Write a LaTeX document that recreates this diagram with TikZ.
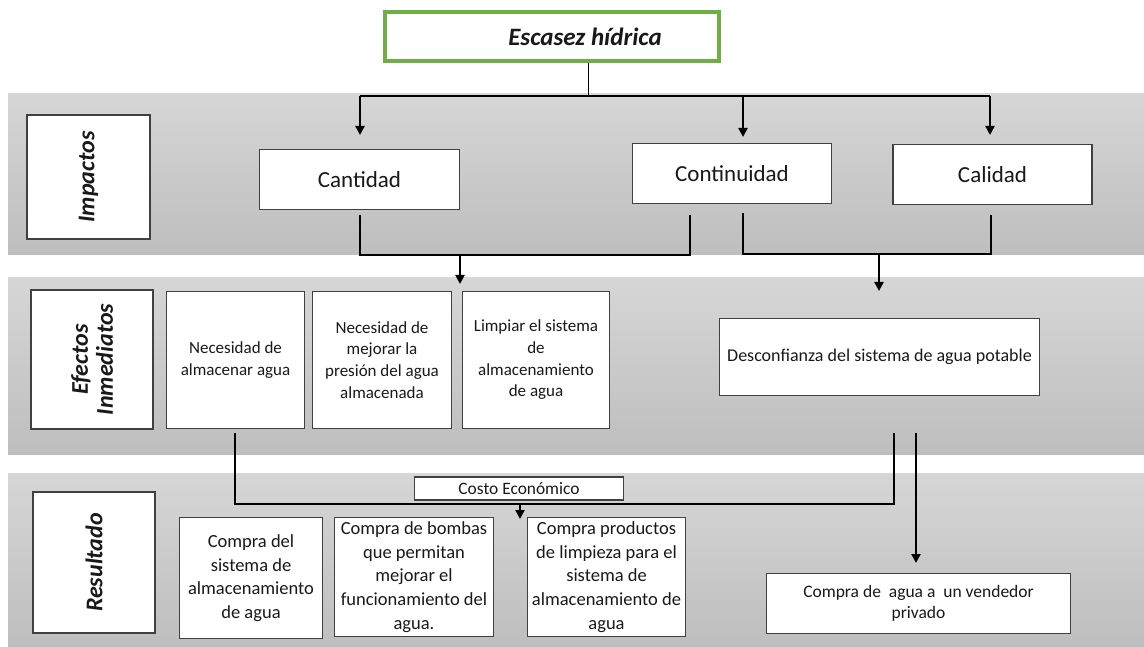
\documentclass[tikz,border=0pt]{standalone}
\usepackage{fontspec}
\setmainfont{Carlito}
\usetikzlibrary{arrows.meta}
\definecolor{bandtop}{RGB}{214,214,214}
\definecolor{bandbot}{RGB}{190,190,190}
\definecolor{titlegreen}{RGB}{112,173,71}
\definecolor{boxline}{RGB}{64,64,64}
\definecolor{txt}{RGB}{25,25,25}
\begin{document}
\begin{tikzpicture}[x=1pt,y=-1pt,
  band/.style={top color=bandtop,bottom color=bandbot,draw=none},
  box/.style={draw=boxline,line width=1.3pt,fill=white,inner sep=0pt,align=center,text=txt},
  small/.style={font=\fontsize{17}{21.7}\selectfont},
  res/.style={font=\fontsize{18.5}{23.6}\selectfont},
  big/.style={font=\fontsize{23}{28}\selectfont},
  lab/.style={box,rotate=90,font=\fontsize{24}{25}\selectfont\bfseries\itshape},
  conn/.style={line width=2.8pt,line join=miter},
  arr/.style={line width=2.2pt,-{Triangle[width=9pt,length=9pt]}},
]
\useasboundingbox (0,0) rectangle (1144,647);
% bands
\shade[band] (8,94) rectangle (1144,255);
\shade[band] (8,278) rectangle (1144,454);
\shade[band] (8,473) rectangle (1144,647);
\draw[white!85!black,line width=1pt] (8,94.5) -- (1144,94.5);
\draw[white!85!black,line width=1pt] (8,278.5) -- (1144,278.5);
\draw[white!85!black,line width=1pt] (8,473.5) -- (1144,473.5);

% title
\node[draw=titlegreen,line width=4pt,fill=white,minimum width=334,minimum height=49,text=txt,
      font=\fontsize{25}{28}\selectfont\bfseries\itshape] (title) at (552,36.5) {\hspace*{66pt}Escasez hídrica};

% labels
\node[lab,minimum width=124,minimum height=123] (limp) at (88.5,177) {Impactos};
\node[lab,minimum width=139,minimum height=122] (lefe) at (92,359.5) {Efectos\\Inmediatos};
\node[lab,minimum width=141,minimum height=122] (lres) at (94,562.5) {Resultado};

% impacts
\node[box,big,minimum width=200,minimum height=60] (cantidad) at (359.5,179.5) {Cantidad};
\node[box,big,minimum width=199,minimum height=60] (continuidad) at (732,173.5) {Continuidad};
\node[box,big,minimum width=199,minimum height=60] (calidad) at (992.5,174.5) {Calidad};

% immediate effects
\node[box,small,minimum width=138,minimum height=137] (nec1) at (235.5,360) {Necesidad de\\almacenar agua};
\node[box,small,minimum width=139,minimum height=137] (nec2) at (382,360) {Necesidad de\\mejorar la\\presión del agua\\almacenada};
\node[box,small,minimum width=147,minimum height=137] (limpiar) at (536,360) {Limpiar el sistema\\de\\almacenamiento\\de agua};
\node[box,font=\fontsize{18}{22}\selectfont,minimum width=320,minimum height=77] (desc) at (879.5,357) {Desconfianza del sistema de agua potable};

% results
\node[box,font=\fontsize{17.4}{19}\selectfont,minimum width=209,minimum height=23] (costo) at (519,488.5) {Costo Económico};
\node[box,res,minimum width=143,minimum height=121] (comp1) at (251,578) {Compra del\\sistema de\\almacenamiento\\de agua};
\node[box,res,minimum width=159,minimum height=119] (comp2) at (414,577) {Compra de bombas\\que permitan\\mejorar el\\funcionamiento del\\agua.};
\node[box,res,minimum width=158,minimum height=119] (comp3) at (606.5,577) {Compra productos\\de limpieza para el\\sistema de\\almacenamiento de\\agua};
\node[box,font=\fontsize{17.5}{21}\selectfont,minimum width=304,minimum height=60] (comp4) at (918.5,603.5) {Compra de\ \ agua a\ \ un vendedor\\privado};

% coordinates for connectors
\coordinate (stem) at (588,96);
\coordinate (busL) at (360,96);
\coordinate (busM) at (743,96);
\coordinate (busR) at (990,96);
\coordinate (tipCan) at (360,135);
\coordinate (tipCon) at (743,137);
\coordinate (tipCal) at (990,135);
\coordinate (canB) at (360,215);
\coordinate (conBL) at (690,215);
\coordinate (conBR) at (743,213);
\coordinate (calB) at (991,215);
\coordinate (jL) at (460,255);
\coordinate (jR) at (879,254);
\coordinate (tipL) at (460,284);
\coordinate (tipR) at (879,291);
\coordinate (necB) at (235,433);
\coordinate (descB1) at (894,433);
\coordinate (descB2) at (916,433);
\coordinate (jC) at (520,504);
\coordinate (tipC) at (520,519);
\coordinate (tipA) at (916,563);

% connectors
\draw[line width=0.8pt] (title.south -| stem) -- (stem);
\draw[conn] (busL) -- (busR);
\draw[arr] (busL) -- (tipCan);
\draw[arr] (busM) -- (tipCon);
\draw[arr] (busR) -- (tipCal);
\draw[conn] (canB) |- (jL -| conBL) -- (conBL);
\draw[arr] (jL) -- (tipL);
\draw[conn] (conBR) |- (jR -| calB) -- (calB);
\draw[arr] (jR) -- (tipR);
\draw[conn] (necB) |- (jC -| descB1) -- (descB1);
\draw[arr] (jC) -- (tipC);
\draw[arr] (descB2) -- (tipA);
\end{tikzpicture}
\end{document}
